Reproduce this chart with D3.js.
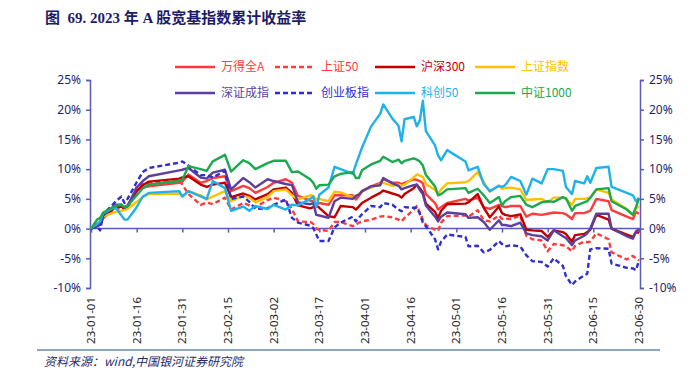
<!DOCTYPE html>
<html>
<head>
<meta charset="utf-8">
<script src="https://cdn.jsdelivr.net/npm/d3@7"></script>
<style>
  body { margin: 0; background: #fff; }
  text { font-family: "Noto Sans CJK SC", "Noto Sans", sans-serif; }
</style>
</head>
<body>
<div id="chart"></div>
<script>
// trading dates (2023), first one is the base point
const dates = ["01-01","01-03","01-04","01-05","01-09","01-11","01-12","01-13","01-16","01-18","01-20","01-30","01-31",
  "02-02","02-06","02-08","02-10","02-14","02-16","02-20","02-22","02-24","02-28",
  "03-02","03-06","03-08","03-10","03-14","03-15","03-16","03-17","03-20","03-22","03-24","03-28","03-29","03-30","03-31",
  "04-03","04-06","04-07","04-10","04-12","04-13","04-14","04-17","04-18","04-19","04-20","04-21","04-24","04-25","04-26","04-28",
  "05-04","05-05","05-08","05-10","05-12","05-15","05-16","05-17","05-19","05-22","05-24","05-26","05-29","05-31",
  "06-02","06-05","06-06","06-08","06-09","06-12","06-13","06-14","06-16","06-20","06-21","06-26","06-28","06-29","06-30"];

// cumulative return (%)
const wdqa = [0,0.5,0.8,2.0,3.7,3.8,3.6,3.9,6.4,6.9,7.1,7.7,7.9,
  9.1,7.7,8.0,8.5,8.8,6.3,7.2,6.8,6.0,7.0,
  7.7,8.3,7.7,5.5,4.7,4.6,4.0,4.3,4.0,5.6,5.6,5.6,4.9,5.5,6.2,
  7.1,7.7,8.3,7.7,7.7,7.5,7.7,8.3,8.2,8.0,7.6,5.8,4.3,3.2,3.6,4.3,
  5.0,4.7,5.2,3.6,3.3,4.0,3.8,3.6,3.8,3.8,2.0,2.5,2.3,2.5,
  2.7,2.6,2.4,1.6,2.6,2.6,2.8,3.0,5.0,4.6,3.1,2.0,1.6,2.8,2.5];
const sz50 = [0,0.4,0.7,1.8,3.4,3.3,3.2,3.4,7.0,7.5,7.7,8.0,7.4,
  5.8,4.0,4.4,4.1,5.2,3.2,4.3,3.9,3.6,4.8,
  5.2,4.6,3.3,1.2,1.1,0.8,0.0,-0.2,-0.4,1.1,1.1,0.4,0.6,1.0,1.2,
  1.5,2.0,2.1,1.9,1.5,1.2,1.8,3.2,3.8,2.8,1.5,0.6,-0.2,-0.4,1.0,2.1,
  2.2,2.0,3.1,1.4,1.2,2.2,1.6,1.7,1.6,2.2,-1.2,-1.8,-2.0,-3.8,
  -2.6,-2.8,-3.0,-3.8,-2.9,-2.2,-2.3,-2.2,-0.8,-1.8,-4.0,-5.2,-4.6,-5.0,-5.4];
const hs300 = [0,0.4,0.7,1.8,3.6,3.7,3.3,3.6,6.3,7.3,7.9,8.4,8.6,
  8.8,7.4,7.0,7.4,7.7,5.3,5.9,5.5,4.9,5.8,
  6.6,6.9,6.0,3.9,3.4,3.6,3.9,3.5,2.1,1.9,3.8,3.6,3.2,3.7,4.3,
  5.2,6.0,6.4,5.9,5.6,5.2,5.8,6.8,7.4,6.8,6.1,4.2,2.8,1.8,3.0,4.1,
  4.2,4.4,5.8,3.5,1.9,3.7,2.6,2.3,2.1,2.4,-0.2,-0.3,-0.4,-1.4,
  -0.3,-0.6,-0.9,-2.2,-1.1,-0.9,-0.6,-0.2,2.3,1.5,0.0,-1.0,-1.4,-0.6,-0.7];
const shzs = [0,0.8,1.2,2.0,2.8,3.0,3.1,3.3,4.5,5.3,5.8,5.9,5.4,
  6.3,5.6,4.9,5.4,6.3,4.6,5.5,5.2,4.4,5.3,
  6.3,6.6,5.6,4.9,5.6,5.5,4.9,5.0,4.6,6.2,6.1,5.3,5.5,5.8,6.3,
  6.9,7.5,7.7,7.2,7.4,7.2,7.4,8.6,9.1,8.9,8.7,7.5,6.5,5.8,6.6,7.6,
  7.8,8.0,9.5,7.8,6.2,7.2,6.7,6.8,6.9,6.6,4.8,4.9,5.0,4.4,
  5.2,5.2,5.0,4.0,5.0,5.0,5.1,5.2,6.6,6.0,4.9,3.3,2.3,3.4,3.7];
const szcz = [0,0.4,0.7,2.2,4.0,4.0,3.5,3.8,6.9,8.0,8.8,9.8,9.9,
  10.2,8.6,8.4,9.4,9.9,6.6,8.5,7.8,6.9,8.3,
  8.0,7.5,7.3,4.4,4.1,4.3,2.3,2.2,1.8,4.6,5.2,5.0,5.5,5.7,6.3,
  7.1,7.3,8.5,7.6,7.2,6.6,6.8,7.3,7.4,6.5,5.8,3.9,2.0,1.2,2.0,2.7,
  2.4,1.8,1.9,1.1,-0.2,1.4,0.6,0.6,0.4,1.0,-0.8,-1.1,-1.3,-2.0,
  -0.3,-1.3,-1.6,-2.8,-2.0,-1.2,-0.8,0.0,2.5,2.5,0.0,-1.3,-1.7,-0.5,-0.1];
const cyb = [0,0.3,-0.3,2.4,4.5,5.4,4.3,5.0,7.8,9.5,10.2,11.1,11.3,
  10.6,9.0,9.0,8.6,9.7,5.0,5.4,4.5,3.3,3.4,
  4.0,4.9,1.8,1.0,0.5,0.1,-1.0,-2.1,-2.1,0.2,1.0,2.0,1.2,1.8,2.4,
  3.8,3.6,4.3,4.0,3.2,2.9,3.6,3.5,3.5,2.5,1.0,0.4,-1.8,-3.5,-2.2,-1.0,
  -1.4,-3.0,-2.9,-4.0,-3.6,-2.1,-2.6,-3.0,-2.8,-3.0,-4.5,-5.5,-5.6,-6.4,
  -5.0,-6.3,-8.0,-9.5,-8.9,-7.9,-7.6,-3.5,-3.3,-3.4,-5.9,-6.6,-6.7,-7.0,-5.4];
const kc50 = [0,0.8,1.2,2.6,3.6,2.2,1.5,1.5,3.6,5.4,6.0,6.3,5.4,
  6.3,5.4,5.0,8.0,6.8,3.0,3.7,3.0,3.8,3.3,
  4.0,3.2,4.0,3.9,5.0,5.4,3.6,5.7,6.9,10.4,10.0,9.2,10.8,12.2,13.6,
  17.2,19.3,20.9,18.5,17.3,14.7,18.4,18.8,17.2,18.2,21.5,16.4,14.0,12.3,11.5,13.2,
  11.3,9.8,10.4,7.5,6.3,7.2,7.0,7.3,8.7,8.0,5.7,8.4,7.6,10.0,
  10.0,9.7,7.0,5.8,8.0,7.6,8.8,7.7,10.2,10.4,7.0,6.0,5.6,4.6,5.2];
const zz1000 = [0,1.5,1.8,2.7,3.8,4.0,3.6,3.8,5.6,6.8,7.4,8.0,8.2,
  10.5,10.0,9.7,11.3,12.4,9.6,11.5,11.0,10.0,11.0,
  11.4,11.4,9.5,9.6,8.3,7.7,6.7,7.3,7.4,8.8,9.2,9.5,8.5,8.5,9.8,
  10.8,11.4,12.1,11.2,11.6,11.0,11.4,11.8,11.6,11.3,10.6,9.0,7.1,5.6,5.8,6.6,
  6.8,6.0,6.7,5.6,4.3,5.3,3.9,4.6,5.3,5.5,4.0,3.6,4.4,4.6,
  4.5,5.3,5.1,3.0,3.8,4.4,4.6,5.2,6.6,6.8,4.6,3.2,2.3,3.6,5.1];

const seriesNames = ["万得全A", "上证50", "沪深300", "上证指数", "深证成指", "创业板指", "科创50", "中证1000"];
const seriesValues = [wdqa, sz50, hs300, shzs, szcz, cyb, kc50, zz1000];
const seriesColors = ["#ff3b3b", "#ff3b3b", "#c00000", "#ffc000", "#5b3f9e", "#2f2fd0", "#1fb1ea", "#1aa94f"];
const seriesDashed = [false, true, false, false, false, true, false, false];

const yTicks = [-10, -5, 0, 5, 10, 15, 20, 25];
const xTickLabels = ["23-01-01","23-01-16","23-01-31","23-02-15","23-03-02","23-03-17","23-04-01",
  "23-04-16","23-05-01","23-05-16","23-05-31","23-06-15","23-06-30"];

const W = 698, H = 372;
const plotLeft = 90, plotRight = 640, plotTop = 80, plotBottom = 288;
const axisColor = "#5a5ab8", labelColor = "#1f1f70";

const parse = d3.timeParse("%Y-%m-%d");
const parseShort = d3.timeParse("%y-%m-%d");

const svg = d3.select("#chart").append("svg")
    .attr("width", W)
    .attr("height", H)
    .style("background", "#fff");

const x = d3.scaleTime()
    .domain([parse("2023-01-01"), parse("2023-06-30")])
    .range([plotLeft + 1, plotRight - 1]);

const y = d3.scaleLinear()
    .domain([-10, 25])
    .range([plotBottom, plotTop]);

// title
svg.append("text")
    .attr("x", 45)
    .attr("y", 23)
    .attr("fill", "#1c1c6a")
    .style("white-space", "pre")
    .style("font-family", "'Liberation Serif', 'Noto Sans CJK SC', serif")
    .style("font-size", "15px")
    .style("font-weight", "bold")
    .text("图  69. 2023 年 A 股宽基指数累计收益率");

// left and right axes
const yLeft = svg.append("g")
    .attr("transform", `translate(${plotLeft},0)`)
    .call(d3.axisLeft(y).tickValues(yTicks).tickFormat(d => d + "%").tickSize(4));
const yRight = svg.append("g")
    .attr("transform", `translate(${plotRight},0)`)
    .call(d3.axisRight(y).tickValues(yTicks).tickFormat(d => d + "%").tickSize(4));

[yLeft, yRight].forEach(g => {
  g.select(".domain").attr("stroke", axisColor).attr("stroke-width", 1.5);
  g.selectAll(".tick line").attr("stroke", axisColor).attr("stroke-width", 1.5);
  g.selectAll(".tick text")
      .attr("fill", labelColor)
      .style("font-family", "'Noto Sans', sans-serif")
      .style("font-size", "12px");
});
yLeft.selectAll(".tick text").attr("x", -9);
yRight.selectAll(".tick text").attr("x", 9);

// zero line with ticks
const xTicks = xTickLabels.map(parseShort);
const xAxis = svg.append("g")
    .attr("transform", `translate(0,${y(0)})`)
    .call(d3.axisBottom(x).tickValues(xTicks).tickFormat("").tickSize(4).tickSizeOuter(0));
xAxis.select(".domain").attr("stroke", axisColor).attr("stroke-width", 1.5)
    .attr("d", `M${plotLeft},0H${plotRight}`);
xAxis.selectAll(".tick line").attr("stroke", axisColor).attr("stroke-width", 1.5);

// date labels at the bottom
svg.append("g")
  .selectAll("text")
  .data(xTicks)
  .join("text")
    .attr("transform", d => `translate(${x(d) + 4},297) rotate(-90)`)
    .attr("text-anchor", "end")
    .attr("fill", "#222")
    .style("font-family", "'Noto Sans', sans-serif")
    .style("font-size", "11.5px")
    .text((d, i) => xTickLabels[i]);

// lines
const line = d3.line()
    .x((d, i) => x(parse("2023-" + dates[i])))
    .y(d => y(d));

seriesValues.forEach((vals, i) => {
  svg.append("path")
      .datum(vals)
      .attr("fill", "none")
      .attr("stroke", seriesColors[i])
      .attr("stroke-width", 2.4)
      .attr("stroke-linejoin", "round")
      .attr("stroke-dasharray", seriesDashed[i] ? "5,3" : null)
      .attr("d", line);
});

// legend
const legend = svg.append("g");
seriesNames.forEach((name, i) => {
  const lx = 175 + (i % 4) * 100, ly = 67 + Math.floor(i / 4) * 26;
  legend.append("line")
      .attr("x1", lx).attr("x2", lx + 40)
      .attr("y1", ly).attr("y2", ly)
      .attr("stroke", seriesColors[i])
      .attr("stroke-width", 2.4)
      .attr("stroke-dasharray", seriesDashed[i] ? "5,3" : null);
  legend.append("text")
      .attr("x", lx + 46)
      .attr("y", ly)
      .attr("dy", "0.35em")
      .attr("fill", seriesColors[i])
      .style("font-size", "12px")
      .text(name);
});

// bottom rule and source
svg.append("line")
    .attr("x1", 37).attr("x2", 660)
    .attr("y1", 350).attr("y2", 350)
    .attr("stroke", "#1f4e8c")
    .attr("stroke-width", 1.2);

svg.append("text")
    .attr("x", 44)
    .attr("y", 366)
    .attr("fill", "#2a2a6a")
    .style("font-size", "12px")
    .style("font-style", "italic")
    .text("资料来源：wind,中国银河证券研究院");
</script>
</body>
</html>
